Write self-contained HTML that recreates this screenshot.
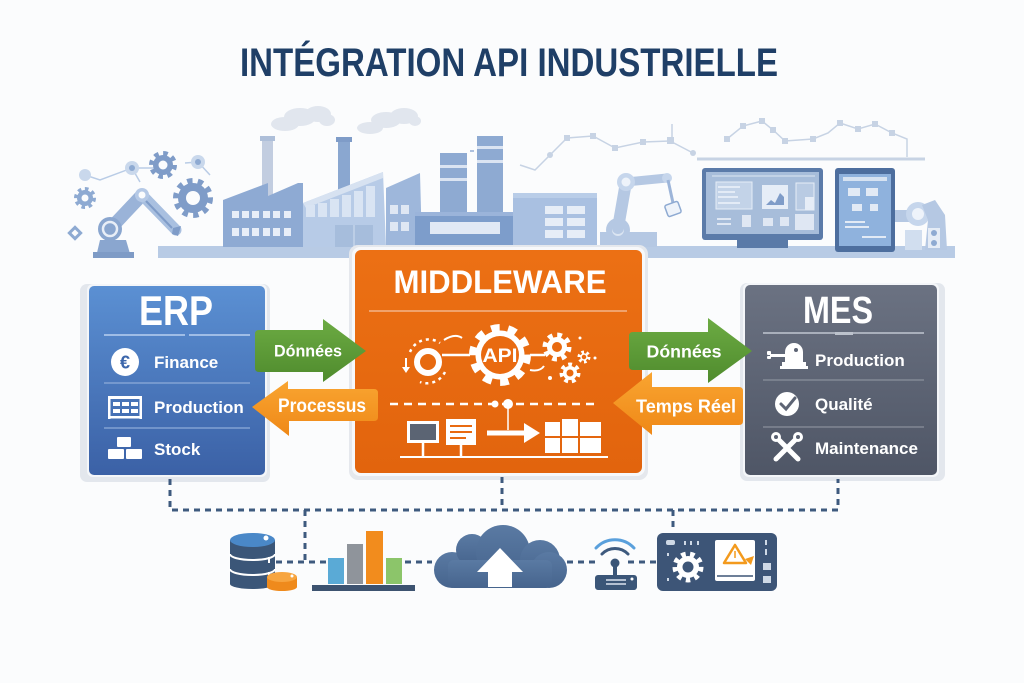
<!DOCTYPE html>
<html><head><meta charset="utf-8">
<style>
html,body{margin:0;padding:0;background:#fbfcfd;}
svg{display:block;}
text{font-family:"Liberation Sans",sans-serif;font-weight:bold;}
</style></head>
<body>
<svg width="1024" height="683" viewBox="0 0 1024 683" xmlns="http://www.w3.org/2000/svg">
<defs>
<linearGradient id="gErp" x1="0" y1="0" x2="0" y2="1"><stop offset="0" stop-color="#5b90d3"/><stop offset="1" stop-color="#3b61a6"/></linearGradient>
<linearGradient id="gMes" x1="0" y1="0" x2="0" y2="1"><stop offset="0" stop-color="#6b7282"/><stop offset="1" stop-color="#4f5666"/></linearGradient>
<linearGradient id="gMid" x1="0" y1="0" x2="0" y2="1"><stop offset="0" stop-color="#ec7014"/><stop offset="1" stop-color="#e2640d"/></linearGradient>
<linearGradient id="gGreen" x1="0" y1="0" x2="0" y2="1"><stop offset="0" stop-color="#6cab43"/><stop offset="1" stop-color="#4f8b2d"/></linearGradient>
<linearGradient id="gOr" x1="0" y1="0" x2="0" y2="1"><stop offset="0" stop-color="#f9a531"/><stop offset="1" stop-color="#ef8817"/></linearGradient>
<linearGradient id="gCloud" x1="0" y1="0" x2="0" y2="1"><stop offset="0" stop-color="#5a7aa3"/><stop offset="1" stop-color="#46648d"/></linearGradient>
</defs>

<!-- TITLE -->
<text x="240" y="76" font-size="40" fill="#1f3f67" textLength="538" lengthAdjust="spacingAndGlyphs">INTÉGRATION API INDUSTRIELLE</text>

<!-- ===== TOP ILLUSTRATION ===== -->
<g fill="#e1e6ee">
<ellipse cx="285" cy="124" rx="14" ry="7"/><ellipse cx="300" cy="117" rx="16" ry="9"/><ellipse cx="318" cy="114" rx="13" ry="8"/><ellipse cx="327" cy="120" rx="8" ry="6"/>
<ellipse cx="370" cy="128" rx="13" ry="6"/><ellipse cx="386" cy="120" rx="15" ry="8"/><ellipse cx="404" cy="116" rx="14" ry="8"/><ellipse cx="415" cy="121" rx="6" ry="5"/>
</g>
<g stroke="#c7d3e4" stroke-width="1.5" fill="none">
<polyline points="520,165 535,170 550,155 567,138 593,136 615,148 643,142 670,141 693,153"/>
<polyline points="727,139 743,126 762,121 773,130 785,141 813,139 828,133 840,123 858,129 875,124 892,133 907,139 907,157"/>
<line x1="697" y1="159" x2="925" y2="159" stroke-width="3"/>
<line x1="672" y1="124" x2="672" y2="138"/>
</g>
<g fill="#c7d3e4">
<rect x="564" y="135" width="6" height="6"/><rect x="590" y="133" width="6" height="6"/><rect x="612" y="145" width="6" height="6"/><rect x="640" y="139" width="6" height="6"/><rect x="667" y="137" width="7" height="7"/><circle cx="693" cy="153" r="3"/><circle cx="550" cy="155" r="3"/>
<rect x="724" y="136" width="6" height="6"/><rect x="740" y="123" width="6" height="6"/><rect x="759" y="118" width="6" height="6"/><rect x="770" y="127" width="6" height="6"/><rect x="782" y="138" width="6" height="6"/><rect x="810" y="136" width="6" height="6"/><rect x="837" y="120" width="6" height="6"/><rect x="855" y="126" width="6" height="6"/><rect x="872" y="121" width="6" height="6"/><rect x="889" y="130" width="6" height="6"/>
</g>
<g stroke="#b9cce6" stroke-width="1.5" fill="none"><polyline points="85,175 100,180 132,168 160,168"/><line x1="185" y1="163" x2="198" y2="162"/><line x1="198" y1="162" x2="210" y2="175"/><line x1="132" y1="168" x2="140" y2="182"/></g>
<g fill="#c9d8ec"><circle cx="85" cy="175" r="6"/><circle cx="132" cy="168" r="7"/><circle cx="198" cy="162" r="7"/></g>
<g fill="#8eaad2"><circle cx="132" cy="168" r="3"/><circle cx="198" cy="162" r="3"/></g>
<g>
<circle cx="163" cy="165" r="11.5" fill="none" stroke="#7f9cc8" stroke-width="5" stroke-dasharray="4.5 4.5"/>
<circle cx="163" cy="165" r="10" fill="#7f9cc8"/><circle cx="163" cy="165" r="4.5" fill="#fbfcfd"/>
<circle cx="193" cy="198" r="17" fill="none" stroke="#7f9cc8" stroke-width="6" stroke-dasharray="5.3 5.3"/>
<circle cx="193" cy="198" r="15" fill="#7f9cc8"/><circle cx="193" cy="198" r="7" fill="#fbfcfd"/>
<circle cx="85" cy="198" r="9" fill="none" stroke="#8eaad2" stroke-width="4" stroke-dasharray="3.5 3.5"/>
<circle cx="85" cy="198" r="8" fill="#8eaad2"/><circle cx="85" cy="198" r="3.5" fill="#fbfcfd"/>
</g>
<rect x="71" y="229" width="8" height="8" fill="none" stroke="#8eaad2" stroke-width="3" transform="rotate(45 75 233)"/>
<rect x="158" y="246" width="797" height="12" fill="#b8cbe5"/>
<g>
<polygon points="96,257 100,240 126,240 131,257" fill="#8aa6cf"/>
<rect x="93" y="252" width="41" height="6" fill="#7e9bc6"/>
<line x1="110" y1="229" x2="142" y2="195" stroke="#9ab3d8" stroke-width="13" stroke-linecap="round"/>
<line x1="142" y1="195" x2="176" y2="230" stroke="#a9c0e0" stroke-width="11" stroke-linecap="round"/>
<line x1="146" y1="201" x2="172" y2="228" stroke="#7f9cc8" stroke-width="2"/>
<circle cx="110" cy="229" r="12" fill="#8aa6cf"/><circle cx="110" cy="229" r="7" fill="none" stroke="#e8eef7" stroke-width="2.5"/>
<circle cx="142" cy="195" r="7" fill="#b5c9e6"/><circle cx="142" cy="195" r="3.5" fill="#fbfcfd"/>
<polygon points="173,228 181,226 178,236 172,234" fill="#7f9cc8"/>
</g>
<rect x="262" y="139" width="11" height="62" fill="#c2cde0"/><rect x="260" y="136" width="15" height="5" fill="#aebfd9"/>
<polygon points="223,247 223,200 268,183 268,196 298,183 303,183 303,247" fill="#8eaad3"/>
<g fill="#e8eef8"><rect x="232" y="211" width="7" height="7"/><rect x="242" y="211" width="7" height="7"/><rect x="252" y="211" width="7" height="7"/><rect x="263" y="211" width="7" height="7"/><rect x="273" y="211" width="7" height="7"/><rect x="284" y="211" width="7" height="7"/>
<rect x="232" y="228" width="7" height="8"/><rect x="242" y="228" width="7" height="8"/><rect x="252" y="228" width="7" height="8"/><rect x="263" y="228" width="7" height="8"/><rect x="273" y="228" width="7" height="8"/><rect x="284" y="228" width="7" height="8"/></g>
<rect x="338" y="139" width="12" height="55" fill="#8aa7d0"/><rect x="336" y="137" width="16" height="5" fill="#7f9cc8"/>
<polygon points="303,247 303,203 383,172 386,247" fill="#b7cbe7"/>
<polygon points="303,203 383,172 383,178 306,208" fill="#d7e2f1"/>
<g fill="#d9e4f3"><rect x="306" y="205" width="9" height="12"/><rect x="318" y="203" width="9" height="14"/><rect x="330" y="199" width="9" height="18"/><rect x="342" y="195" width="9" height="22"/><rect x="354" y="191" width="9" height="26"/><rect x="366" y="186" width="9" height="31"/></g>
<rect x="335" y="225" width="38" height="22" fill="#a6bddc"/><line x1="354" y1="225" x2="354" y2="247" stroke="#c4d3ea" stroke-width="1.5"/>
<polygon points="386,247 386,188 420,173 422,247" fill="#9eb7db"/>
<g fill="#dfe7f3"><rect x="390" y="205" width="8" height="9"/><rect x="401" y="205" width="8" height="9"/><rect x="390" y="222" width="8" height="9"/><rect x="401" y="222" width="8" height="9"/></g>
<rect x="440" y="153" width="27" height="62" fill="#8eaad2"/><rect x="440" y="165" width="27" height="3" fill="#dbe4f2"/><rect x="440" y="178" width="27" height="3" fill="#dbe4f2"/>
<rect x="477" y="136" width="26" height="79" fill="#8eaad2"/><rect x="477" y="146" width="26" height="3" fill="#dbe4f2"/><rect x="477" y="160" width="26" height="3" fill="#dbe4f2"/>
<rect x="470" y="150" width="4" height="2" fill="#aec1de"/>
<rect x="415" y="212" width="100" height="35" fill="#7d9dcb"/><rect x="415" y="212" width="100" height="4" fill="#9bb4da"/>
<rect x="430" y="222" width="70" height="12" fill="#e1e9f5"/>
<rect x="513" y="193" width="84" height="54" fill="#a9c0e1"/><rect x="513" y="193" width="84" height="5" fill="#b9cde8"/>
<g fill="#e6edf7"><rect x="545" y="206" width="18" height="8"/><rect x="567" y="206" width="18" height="8"/><rect x="545" y="218" width="18" height="8"/><rect x="567" y="218" width="18" height="8"/><rect x="545" y="230" width="18" height="8"/><rect x="567" y="230" width="18" height="8"/></g>
<g>
<rect x="600" y="232" width="57" height="15" fill="#b5c8e3"/>
<circle cx="618" cy="230" r="12" fill="#b5c8e3"/><circle cx="618" cy="230" r="6" fill="#dbe5f2"/>
<line x1="618" y1="228" x2="626" y2="182" stroke="#b5c8e3" stroke-width="12" stroke-linecap="round"/>
<line x1="626" y1="182" x2="667" y2="178" stroke="#b5c8e3" stroke-width="9" stroke-linecap="round"/>
<circle cx="626" cy="182" r="9" fill="#c6d6ec"/><circle cx="626" cy="182" r="4.5" fill="#eef3fa"/>
<circle cx="667" cy="178" r="5" fill="#c6d6ec"/>
<line x1="668" y1="180" x2="673" y2="203" stroke="#9db5d9" stroke-width="3"/>
<rect x="666" y="203" width="14" height="12" rx="2" fill="#eef3fa" stroke="#8eaad2" stroke-width="1.5" transform="rotate(-20 673 209)"/>
</g>
<rect x="737" y="240" width="51" height="8" fill="#5a7aa8"/><rect x="757" y="234" width="11" height="8" fill="#5a7aa8"/>
<rect x="702" y="168" width="121" height="72" rx="3" fill="#5b7ba9"/>
<rect x="706" y="172" width="113" height="62" fill="#a7bdda"/>
<line x1="712" y1="176" x2="815" y2="176" stroke="#dde6f2" stroke-width="1"/>
<rect x="716" y="182" width="36" height="27" fill="#c3d3e8" stroke="#e6edf7" stroke-width="1"/>
<g stroke="#eef3fa" stroke-width="1.5"><line x1="718" y1="187" x2="740" y2="187"/><line x1="718" y1="192" x2="735" y2="192"/><line x1="718" y1="197" x2="738" y2="197"/><line x1="718" y1="203" x2="740" y2="203"/></g>
<rect x="762" y="185" width="26" height="24" fill="#e6edf7"/>
<polygon points="766,205 771,200 775,203 780,193 784,197 784,205" fill="#7f9cc8"/>
<rect x="796" y="183" width="18" height="27" fill="#b9cbe3" stroke="#e6edf7" stroke-width="1"/>
<rect x="805" y="197" width="9" height="13" fill="#e6edf7"/>
<g fill="#dfe7f3"><rect x="717" y="218" width="14" height="2"/><rect x="717" y="223" width="14" height="2"/><rect x="742" y="215" width="9" height="12"/><rect x="763" y="218" width="10" height="8"/><rect x="780" y="217" width="9" height="9"/><rect x="795" y="214" width="19" height="16"/></g>
<rect x="835" y="168" width="60" height="84" rx="3" fill="#4d6e9e"/>
<rect x="839" y="174" width="52" height="72" fill="#8fb2dd"/>
<rect x="843" y="177" width="44" height="4" fill="#d6e2f1"/>
<g fill="#e2eaf5"><rect x="848" y="188" width="12" height="8"/><rect x="866" y="188" width="12" height="8"/><rect x="852" y="204" width="10" height="7"/><rect x="870" y="204" width="8" height="7"/><rect x="845" y="221" width="20" height="2"/><rect x="845" y="226" width="24" height="2"/><rect x="862" y="236" width="24" height="2"/></g>
<g>
<rect x="895" y="210" width="25" height="12" fill="#b5c8e3"/>
<rect x="905" y="230" width="17" height="20" fill="#d1deef"/>
<circle cx="918" cy="214" r="12" fill="#c6d6ec"/><circle cx="918" cy="214" r="6" fill="#eef3fa"/>
<polygon points="922,205 935,200 945,215 947,250 925,250 928,220" fill="#b5c8e3"/>
<rect x="928" y="228" width="12" height="20" fill="#e5ecf6"/><circle cx="934" cy="233" r="3" fill="#8eaad2"/><circle cx="934" cy="243" r="3" fill="#8eaad2"/>
</g>

<!-- ===== ERP CARD ===== -->
<rect x="80" y="284" width="190" height="198" rx="7" fill="#e3e7ed"/>
<rect x="87" y="284" width="180" height="193" rx="6" fill="#f4f6f9"/>
<rect x="89" y="286" width="176" height="189" rx="5" fill="url(#gErp)"/>
<text x="176" y="325" font-size="42" fill="#ffffff" text-anchor="middle" textLength="74" lengthAdjust="spacingAndGlyphs">ERP</text>
<g stroke="#9fbde6" stroke-width="2"><line x1="104" y1="335" x2="185" y2="335"/><line x1="189" y1="335" x2="250" y2="335"/></g>
<g stroke="#8eacd9" stroke-width="1.2"><line x1="104" y1="383" x2="250" y2="383"/><line x1="104" y1="428" x2="250" y2="428"/></g>
<circle cx="125" cy="362" r="14" fill="#ffffff"/>
<text x="125" y="368.5" font-size="18" fill="#3c66ab" text-anchor="middle">€</text>
<g fill="#ffffff">
<rect x="108" y="396" width="34" height="3"/>
<rect x="108" y="396" width="2.5" height="23"/><rect x="108" y="416" width="34" height="2.5"/><rect x="139.5" y="396" width="2.5" height="23"/>
<rect x="113" y="402" width="7" height="4"/><rect x="122" y="402" width="7" height="4"/><rect x="131" y="402" width="7" height="4"/>
<rect x="113" y="409" width="7" height="4"/><rect x="122" y="409" width="7" height="4"/><rect x="131" y="409" width="7" height="4"/>
<rect x="117" y="437" width="14" height="10" rx="1"/>
<rect x="108" y="449" width="16" height="10" rx="1"/><rect x="126" y="449" width="16" height="10" rx="1"/>
</g>
<g font-size="17" fill="#ffffff">
<text x="154" y="368">Finance</text>
<text x="154" y="413">Production</text>
<text x="154" y="455">Stock</text>
</g>

<!-- ===== MIDDLEWARE CARD ===== -->
<rect x="349" y="245" width="299" height="235" rx="9" fill="#e5e8ed"/>
<rect x="352" y="247" width="293" height="229" rx="8" fill="#f7f8fa"/>
<rect x="355" y="250" width="287" height="223" rx="6" fill="url(#gMid)"/>
<text x="500" y="293" font-size="32" fill="#ffffff" text-anchor="middle" textLength="213" lengthAdjust="spacingAndGlyphs">MIDDLEWARE</text>
<line x1="369" y1="311" x2="627" y2="311" stroke="#f3b48a" stroke-width="1.5"/>
<circle cx="500" cy="355" r="27.5" fill="none" stroke="#ffffff" stroke-width="7" stroke-dasharray="8.6 8.6"/>
<circle cx="500" cy="355" r="24.5" fill="#ffffff"/>
<circle cx="500" cy="355" r="19" fill="#e96a10"/>
<text x="500" y="362" font-size="19" fill="#ffffff" text-anchor="middle" textLength="35" lengthAdjust="spacingAndGlyphs">API</text>
<circle cx="428" cy="362" r="11" fill="none" stroke="#ffffff" stroke-width="6"/>
<path d="M410 352 A20 20 0 0 1 440 343" fill="none" stroke="#ffffff" stroke-width="2.5" stroke-dasharray="3 4"/>
<path d="M445 372 A20 20 0 0 1 420 382" fill="none" stroke="#ffffff" stroke-width="2.5" stroke-dasharray="3 4"/>
<line x1="406" y1="358" x2="406" y2="368" stroke="#ffffff" stroke-width="2"/><polygon points="402,367 410,367 406,373" fill="#ffffff"/>
<line x1="442" y1="355" x2="470" y2="355" stroke="#ffffff" stroke-width="2.5"/>
<path d="M444 340 Q455 333 462 338" fill="none" stroke="#ffffff" stroke-width="2"/>
<line x1="530" y1="355" x2="545" y2="355" stroke="#ffffff" stroke-width="2.5"/>
<path d="M530 370 Q540 372 544 366" fill="none" stroke="#ffffff" stroke-width="2"/>
<circle cx="557" cy="347" r="12" fill="none" stroke="#ffffff" stroke-width="5" stroke-dasharray="4.7 4.7"/>
<circle cx="557" cy="347" r="10" fill="#ffffff"/><circle cx="557" cy="347" r="5" fill="#e96a10"/>
<circle cx="570" cy="373" r="8.5" fill="none" stroke="#ffffff" stroke-width="4" stroke-dasharray="3.8 3.8"/>
<circle cx="570" cy="373" r="7" fill="#ffffff"/><circle cx="570" cy="373" r="3.5" fill="#e96a10"/>
<circle cx="584" cy="357" r="5" fill="none" stroke="#ffffff" stroke-width="3" stroke-dasharray="2.6 2.6"/>
<circle cx="584" cy="357" r="3" fill="#e96a10" stroke="#ffffff" stroke-width="1.5"/>
<circle cx="580" cy="338" r="1.5" fill="#ffffff"/><circle cx="595" cy="358" r="1.5" fill="#ffffff"/><circle cx="550" cy="378" r="2" fill="#ffffff"/>
<line x1="390" y1="404" x2="600" y2="404" stroke="#ffffff" stroke-width="2.5" stroke-dasharray="8 6"/>
<circle cx="495" cy="404" r="3.5" fill="#ffffff"/><circle cx="508" cy="404" r="5" fill="#ffffff"/>
<line x1="508" y1="404" x2="508" y2="430" stroke="#ffffff" stroke-width="1.5"/>
<rect x="407" y="421" width="32" height="22" fill="#ffffff"/><rect x="410" y="424" width="26" height="16" fill="#5b6473"/>
<line x1="423" y1="443" x2="423" y2="457" stroke="#ffffff" stroke-width="2.5"/>
<rect x="446" y="419" width="30" height="26" fill="#ffffff"/>
<g stroke="#e96a10" stroke-width="2"><line x1="450" y1="426" x2="472" y2="426"/><line x1="450" y1="432" x2="472" y2="432"/><line x1="450" y1="438" x2="466" y2="438"/></g>
<line x1="461" y1="445" x2="461" y2="457" stroke="#ffffff" stroke-width="2.5"/>
<line x1="487" y1="433" x2="526" y2="433" stroke="#ffffff" stroke-width="5"/>
<polygon points="524,423 540,433 524,443" fill="#ffffff"/>
<g fill="#ffffff">
<rect x="545" y="422" width="15" height="14"/><rect x="562" y="419" width="16" height="17"/><rect x="580" y="422" width="21" height="14"/>
<rect x="545" y="438" width="15" height="15"/><rect x="562" y="438" width="16" height="15"/><rect x="580" y="438" width="21" height="15"/>
</g>
<line x1="400" y1="457" x2="608" y2="457" stroke="#ffffff" stroke-width="2"/>

<!-- ===== MES CARD ===== -->
<rect x="740" y="283" width="205" height="198" rx="7" fill="#e3e7ed"/>
<rect x="743" y="283" width="196" height="194" rx="6" fill="#f4f6f9"/>
<rect x="745" y="285" width="192" height="190" rx="5" fill="url(#gMes)"/>
<text x="838" y="323" font-size="38" fill="#ffffff" text-anchor="middle" textLength="70" lengthAdjust="spacingAndGlyphs">MES</text>
<line x1="763" y1="333" x2="924" y2="333" stroke="#a9afbb" stroke-width="2"/>
<rect x="835" y="332" width="18" height="3" fill="#bcc2cc"/>
<g stroke="#8a909c" stroke-width="1.2"><line x1="763" y1="380" x2="924" y2="380"/><line x1="763" y1="427" x2="924" y2="427"/></g>
<g fill="#ffffff">
<path d="M785 362 L785 352 A9 9 0 0 1 803 352 L803 362 Z"/>
<rect x="782" y="362" width="24" height="4"/><rect x="780" y="366" width="28" height="3"/>
<rect x="770" y="354" width="16" height="3"/>
<rect x="767" y="351" width="4" height="4" rx="1"/><rect x="767" y="356" width="4" height="3" rx="1"/>
</g>
<circle cx="796" cy="350" r="2" fill="#5d6474"/>
<circle cx="787" cy="404" r="12" fill="#ffffff"/>
<polyline points="781,404 786,409 795,398" fill="none" stroke="#5d6474" stroke-width="3" stroke-linecap="round"/>
<g stroke="#ffffff" stroke-width="5" stroke-linecap="round">
<line x1="776" y1="437" x2="798" y2="459"/><line x1="798" y1="437" x2="776" y2="459"/>
</g>
<circle cx="776" cy="437" r="5" fill="#ffffff"/><circle cx="798" cy="437" r="5" fill="#ffffff"/>
<circle cx="776" cy="437" r="2" fill="#5a6171"/><circle cx="798" cy="437" r="2" fill="#5a6171"/>
<g font-size="17" fill="#ffffff">
<text x="815" y="366">Production</text>
<text x="815" y="410">Qualité</text>
<text x="815" y="454">Maintenance</text>
</g>

<!-- ===== ARROWS ===== -->
<path d="M259 330 H323 V319 L366 351 L323 382 V372 H259 Q255 372 255 368 V334 Q255 330 259 330 Z" fill="url(#gGreen)"/>
<text x="308" y="356.5" font-size="17" fill="#ffffff" text-anchor="middle" textLength="68" lengthAdjust="spacingAndGlyphs">Dónnées</text>
<path d="M374 389 H288 V381 L252 407 L289 436 V421 H374 Q378 421 378 417 V393 Q378 389 374 389 Z" fill="url(#gOr)"/>
<text x="322" y="412" font-size="19" fill="#ffffff" text-anchor="middle" textLength="88" lengthAdjust="spacingAndGlyphs">Processus</text>
<path d="M633 332 H708 V318 L752 351 L708 383 V370 H633 Q629 370 629 366 V336 Q629 332 633 332 Z" fill="url(#gGreen)"/>
<text x="684" y="357.5" font-size="17.5" fill="#ffffff" text-anchor="middle" textLength="75" lengthAdjust="spacingAndGlyphs">Dónnées</text>
<path d="M739 387 H652 V372 L613 403 L652 435 V425 H739 Q743 425 743 421 V391 Q743 387 739 387 Z" fill="url(#gOr)"/>
<text x="686" y="412.5" font-size="18" fill="#ffffff" text-anchor="middle" textLength="100" lengthAdjust="spacingAndGlyphs">Temps Réel</text>

<!-- ===== BOTTOM CONNECTORS ===== -->
<g stroke="#3e5a7e" stroke-width="3" fill="none" stroke-dasharray="6 5">
<path d="M170 479 V510 H838 V479"/>
<line x1="502" y1="477" x2="502" y2="510"/>
<line x1="305" y1="510" x2="305" y2="562"/>
<line x1="673" y1="510" x2="673" y2="532"/>
<line x1="276" y1="562" x2="327" y2="562"/>
<line x1="405" y1="562" x2="432" y2="562"/>
<line x1="567" y1="562" x2="595" y2="562"/>
<line x1="628" y1="562" x2="656" y2="562"/>
</g>

<!-- database -->
<rect x="230" y="540" width="45" height="44" fill="#3b5678"/>
<ellipse cx="252.5" cy="584" rx="22.5" ry="5" fill="#3b5678"/>
<ellipse cx="252.5" cy="540" rx="22.5" ry="7" fill="#4a88c8"/>
<g stroke="#ffffff" stroke-width="2" fill="none"><path d="M230 554 A22.5 6 0 0 0 275 554"/><path d="M230 569 A22.5 6 0 0 0 275 569"/></g>
<circle cx="266" cy="538" r="2.5" fill="#ffffff"/>
<rect x="268" y="557" width="2" height="6" fill="#ffffff"/><rect x="268" y="572" width="2" height="6" fill="#ffffff"/>
<rect x="267" y="577" width="30" height="10" fill="#ef8a1c"/>
<ellipse cx="282" cy="587" rx="15" ry="4" fill="#ef8a1c"/>
<ellipse cx="282" cy="577" rx="15" ry="5" fill="#f7a540"/>
<circle cx="292" cy="576" r="1.5" fill="#ffffff"/>

<!-- bar chart -->
<rect x="328" y="558" width="16" height="26" fill="#5aaad6"/>
<rect x="347" y="544" width="16" height="40" fill="#8f949b"/>
<rect x="366" y="531" width="17" height="53" fill="#f28c1d"/>
<rect x="386" y="558" width="16" height="26" fill="#8cc56a"/>
<rect x="312" y="585" width="103" height="6" fill="#3d5370"/>

<!-- cloud -->
<g fill="url(#gCloud)">
<circle cx="452" cy="570" r="18"/>
<circle cx="472" cy="550" r="16"/>
<circle cx="503" cy="552" r="27"/>
<circle cx="540" cy="560" r="20"/>
<circle cx="549" cy="570" r="18"/>
<rect x="448" y="560" width="104" height="28" rx="6"/>
</g>
<polygon points="500,548 523,572 512,572 512,587 488,587 488,572 477,572" fill="#ffffff"/>

<!-- wifi -->
<g fill="none" stroke-linecap="round">
<path d="M596 548 A26 26 0 0 1 634 548" stroke="#5aa0dc" stroke-width="3"/>
<path d="M602 554 A18 18 0 0 1 628 554" stroke="#3e5a7e" stroke-width="3"/>
</g>
<circle cx="615" cy="563" r="4.5" fill="#3b5678"/>
<rect x="613" y="563" width="4" height="12" fill="#3b5678"/>
<rect x="595" y="575" width="42" height="15" rx="3" fill="#3b5678"/>
<g stroke="#dbe4ef" stroke-width="1.5"><line x1="606" y1="580" x2="626" y2="580"/><line x1="606" y1="584" x2="626" y2="584"/></g>
<circle cx="632" cy="579" r="1.5" fill="#ffffff"/>

<!-- device -->
<rect x="657" y="533" width="120" height="58" rx="6" fill="#3d5577"/>
<circle cx="688" cy="567" r="13" fill="none" stroke="#ffffff" stroke-width="5" stroke-dasharray="4.5 4.5"/>
<circle cx="688" cy="567" r="11" fill="#ffffff"/><circle cx="688" cy="567" r="5.5" fill="#3d5577"/>
<rect x="715" y="540" width="40" height="41" rx="2" fill="#ffffff"/>
<line x1="717" y1="576" x2="753" y2="576" stroke="#3d5577" stroke-width="1.5"/>
<polygon points="735,545 746,563 724,563" fill="none" stroke="#f39a1d" stroke-width="2.5" stroke-linejoin="round"/>
<line x1="735" y1="551" x2="735" y2="558" stroke="#f39a1d" stroke-width="1.5"/>
<polygon points="745,559 754,556 751,565" fill="#f39a1d"/>
<rect x="666" y="540" width="9" height="5" rx="2" fill="#cfd9e6"/>
<g fill="#cfd9e6"><rect x="684" y="541" width="2" height="4"/><rect x="690" y="541" width="2" height="4"/><rect x="697" y="541" width="2" height="4"/><rect x="667" y="553" width="2" height="3"/><rect x="667" y="578" width="2" height="3"/>
<rect x="765" y="540" width="2" height="5"/><rect x="765" y="549" width="2" height="6"/>
<rect x="763" y="563" width="8" height="7"/><rect x="763" y="576" width="8" height="7"/></g>
</svg>
</body></html>
